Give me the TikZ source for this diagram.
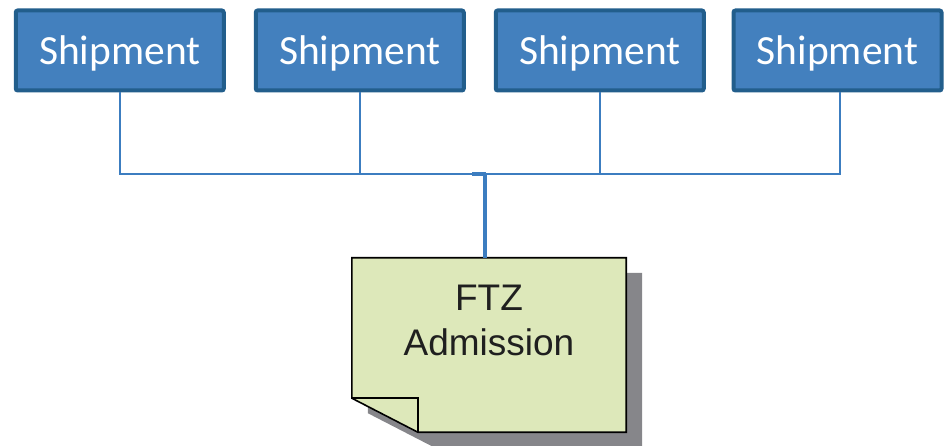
\documentclass[tikz,border=0pt]{standalone}
\usepackage{fontspec}
\setmainfont{Liberation Sans}
\newfontfamily\shipfont{Carlito}
\definecolor{boxfill}{HTML}{4380BE}
\definecolor{boxedge}{HTML}{225E8C}
\definecolor{wire}{HTML}{3C7DC0}
\definecolor{notefill}{HTML}{DDE8BA}
\definecolor{noteshadow}{HTML}{86868A}
\tikzset{
  shipbox/.style={draw=boxedge, fill=boxfill, line width=4pt, rounded corners=2pt,
    minimum width=208pt, minimum height=80pt, inner sep=0pt,
    text height=29pt, text depth=0pt,
    text=white, font=\shipfont\fontsize{41.5}{46}\selectfont},
  notebox/.style={minimum width=274pt, minimum height=174pt, inner sep=0pt},
  bus/.style={draw=wire, line width=1.8pt},
  trunk/.style={draw=wire, line width=4pt},
}
\begin{document}
\begin{tikzpicture}[x=1pt, y=-1pt]
  \useasboundingbox (0,0) rectangle (947,446);

  % four shipment boxes
  \node[shipbox] (s1) at (119.75,50.5) {Shipment};
  \node[shipbox] (s2) at (359.75,50.5) {Shipment};
  \node[shipbox] (s3) at (599.75,50.5) {Shipment};
  \node[shipbox] (s4) at (837.5,50.5) {Shipment};

  % the note (frame only, drawn below)
  \node[notebox] (note) at (489,345) {};
  \coordinate (j) at (485,174);

  % shadow of the note
  \fill[noteshadow] ([shift={(16,15)}]note.north west) -- ([shift={(16,15)}]note.north east)
    -- ([shift={(16,15)}]note.south east) -- ([shift={(82,15)}]note.south west)
    -- ([shift={(16,-19)}]note.south west) -- cycle;

  % note body with folded corner
  \draw[fill=notefill, line width=1.6pt, line join=miter]
    (note.north west) -- (note.north east) -- (note.south east)
    -- ([xshift=66pt]note.south west) coordinate (fb)
    -- ([yshift=34pt]note.south west) coordinate (fa) -- cycle;
  \draw[line width=1.6pt] (fa) -- (fa -| fb) -- (fb);
  \node[font=\fontsize{37}{45}\selectfont, text=black!88, align=center]
    at (489,320) {FTZ\\Admission};

  % connectors
  \draw[bus] (s1.south) |- (j);
  \draw[bus] (s2.south) |- (j);
  \draw[bus] ([xshift=2.5pt]s4.south) |- (j);
  \draw[bus] (s3.south) -- (s3.south |- j);
  \draw[trunk] ([xshift=-13pt]j) -- ([xshift=1pt]j);
  \draw[trunk] (j) -- (j |- note.north);
\end{tikzpicture}
\end{document}
